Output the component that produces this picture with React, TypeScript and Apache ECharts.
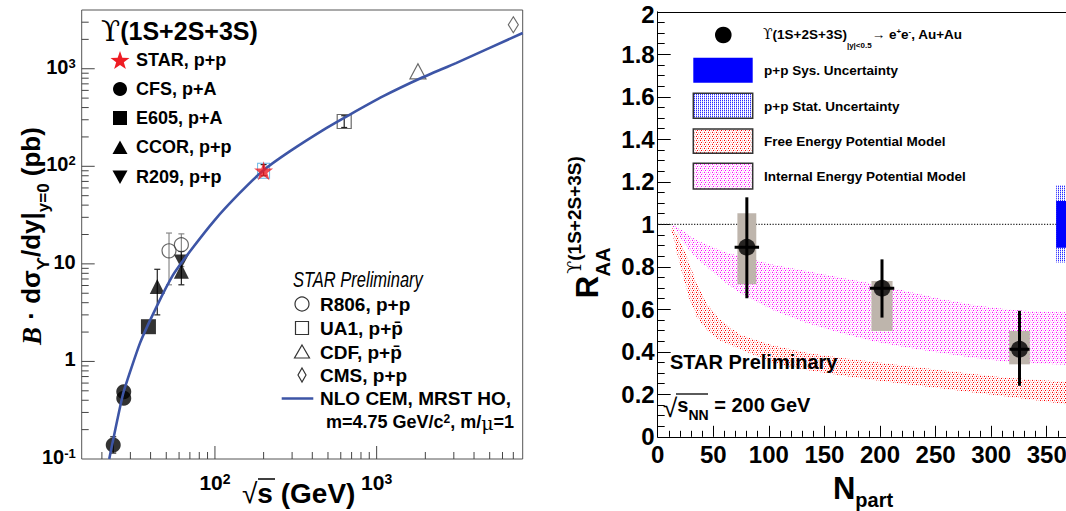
import React, { useEffect, useRef } from 'react';
import * as echarts from 'echarts';

const SANS = '"Liberation Sans", Arial, Helvetica, sans-serif';
const SERIF = '"DejaVu Serif", "Liberation Serif", serif';

// ---------------- Left panel: B dsigma/dy vs sqrt(s) ----------------
const cfsData = [[23.5, 0.139], [27.3, 0.42], [27.3, 0.49]];
const e605Data = [[38.8, 2.27]];
const ccorData = [[44, 5.85], [62, 8.4]];
const r209Data = [[62, 10.6]];
const r806Data = [[52, 13.6], [62, 15.7]];
const starData = [[200, 90]];
const ua1Data = [[630, 288]];
const cdfData = [[1800, 940]];
const cmsData = [[7000, 2825]];
// error bars: [sqrt(s), low, high]
const blackErrors = [[23.5, 0.115, 0.169], [44, 3.0, 8.8], [62, 6.1, 13.4], [200, 80, 104], [630, 250, 330]];
const grayErrors = [[52, 6.1, 20.7], [62, 9.4, 20.3]];
// NLO CEM curve
const nloS = [22.2, 27.1, 34.4, 43.6, 55.1, 70, 100, 142, 198, 290, 488, 679, 1092, 1884, 3096, 8000];
const nloV = [0.1, 0.472, 1.54, 3.65, 7.7, 13.4, 28.3, 53, 90, 142, 246, 337, 520, 803, 1143, 2323];
// tick values of left panel axes
const leftXMin = 15;
const leftXMax = 8000;
const leftYMin = 0.1;
const leftYMax = 4000;
const leftXTicks = [20, 30, 40, 50, 60, 70, 80, 90, 100, 200, 300, 400, 500, 600, 700, 800, 900, 1000, 2000, 3000, 4000, 5000, 6000, 7000];
const leftYTicks = [0.2, 0.3, 0.4, 0.5, 0.6, 0.7, 0.8, 0.9, 1, 2, 3, 4, 5, 6, 7, 8, 9, 10, 20, 30, 40, 50, 60, 70, 80, 90, 100, 200, 300, 400, 500, 600, 700, 800, 900, 1000, 2000, 3000];
const decades = [0.1, 1, 10, 100, 1000];

// ---------------- Right panel: R_AA vs Npart ----------------
const npart = [80.2, 201.8, 325.5];
const raa = [0.892, 0.699, 0.412];
const statLo = [0.652, 0.561, 0.24];
const statHi = [1.127, 0.835, 0.593];
const sysLo = [0.718, 0.498, 0.341];
const sysHi = [1.052, 0.733, 0.498];
const sysHalf = [8.5, 9.5, 9.3];
const npartErr = [11, 11, 9];
// Internal energy potential model band
const intN = [12, 17, 25, 35, 44, 60, 74, 104, 134, 164, 194, 224, 254, 284, 314, 340, 372];
const intHi = [1.0, 0.99, 0.96, 0.925, 0.905, 0.87, 0.85, 0.81, 0.78, 0.75, 0.72, 0.685, 0.65, 0.62, 0.6, 0.59, 0.585];
const intLo = [1.0, 0.965, 0.9, 0.84, 0.8, 0.73, 0.675, 0.595, 0.535, 0.49, 0.45, 0.42, 0.395, 0.372, 0.353, 0.345, 0.338];
// Free energy potential model band
const freeN = [12, 14, 18, 23, 29, 35, 44, 55, 74, 104, 134, 164, 194, 224, 254, 284, 314, 340, 372];
const freeHi = [0.99, 0.975, 0.95, 0.89, 0.81, 0.72, 0.63, 0.555, 0.48, 0.43, 0.395, 0.372, 0.353, 0.333, 0.314, 0.295, 0.278, 0.268, 0.258];
const freeLo = [0.975, 0.94, 0.85, 0.75, 0.64, 0.565, 0.503, 0.455, 0.413, 0.346, 0.314, 0.29, 0.267, 0.247, 0.228, 0.209, 0.19, 0.172, 0.15];
// p+p normalisation uncertainties at R_AA = 1
const ppN = [358.5, 390];
const ppStat = [0.82, 1.185];
const ppSys = [0.89, 1.11];

function makePattern(size: number, dots: Array<[number, number, string]>) {
  const c = document.createElement('canvas');
  c.width = size;
  c.height = size;
  const ctx = c.getContext('2d') as CanvasRenderingContext2D;
  dots.forEach(([x, y, col]) => {
    ctx.fillStyle = col;
    ctx.fillRect(x, y, 1, 1);
  });
  return { image: c.toDataURL(), repeat: 'repeat', imageWidth: size, imageHeight: size };
}

function starPts(cx: number, cy: number, R: number, r: number) {
  const pts: number[][] = [];
  for (let i = 0; i < 10; i++) {
    const a = -Math.PI / 2 + (i * Math.PI) / 5;
    const rad = i % 2 === 0 ? R : r;
    pts.push([cx + rad * Math.cos(a), cy + rad * Math.sin(a)]);
  }
  return pts;
}

const powLabel = (v: number) => {
  const e = Math.round(Math.log10(v));
  if (Math.abs(v / Math.pow(10, e) - 1) > 1e-6) return '';
  if (e === 0) return '{b|1}';
  if (e === 1) return '{b|10}';
  return `{b|10}{s|${e}}`;
};

function buildOption() {
  const magenta = makePattern(4, [
    [0, 0, '#ff00ff'], [2, 0, '#ffb0ff'], [1, 2, '#ff00ff'], [3, 2, '#ffb0ff'],
    [2, 1, '#ffd8ff'], [0, 3, '#ffd8ff'],
  ]);
  const red = makePattern(4, [
    [0, 0, '#ff0000'], [2, 0, '#ffb0b0'], [1, 2, '#ff0000'], [3, 2, '#ffb0b0'],
    [2, 1, '#ffd8d8'], [0, 3, '#ffd8d8'],
  ]);
  const blue = makePattern(2, [[0, 0, '#2a2aff'], [0, 1, '#b8b8ff']]);

  const sansBold = (size: number) => `bold ${size}px ${SANS}`;
  const txt = (x: number, y: number, text: string, font: string, extra: any = {}) => ({
    type: 'text', x, y, z: 100,
    style: { text, font, fill: '#000', verticalAlign: 'middle', ...extra },
  });

  const errBar = (color: string, width: number, cap: number) => (params: any, api: any) => {
    const x = api.value(0);
    const pLo = api.coord([x, api.value(1)]);
    const pHi = api.coord([x, api.value(2)]);
    const style = { stroke: color, lineWidth: width };
    return {
      type: 'group',
      children: [
        { type: 'line', shape: { x1: pLo[0], y1: pLo[1], x2: pHi[0], y2: pHi[1] }, style },
        { type: 'line', shape: { x1: pHi[0] - cap, y1: pHi[1], x2: pHi[0] + cap, y2: pHi[1] }, style },
        { type: 'line', shape: { x1: pLo[0] - cap, y1: pLo[1], x2: pLo[0] + cap, y2: pLo[1] }, style },
      ],
    };
  };

  const band = (N: number[], lo: number[], hi: number[], fill: any) => (params: any, api: any) => {
    if (params.dataIndex !== 0) return null;
    const pts: number[][] = [];
    N.forEach((n, i) => pts.push(api.coord([n, hi[i]])));
    for (let i = N.length - 1; i >= 0; i--) pts.push(api.coord([N[i], lo[i]]));
    return { type: 'polygon', shape: { points: pts }, style: { fill } };
  };

  const ppRect = (fill: any) => (params: any, api: any) => {
    const a = api.coord([api.value(0), api.value(2)]);
    const b = api.coord([api.value(3), api.value(1)]);
    return { type: 'rect', shape: { x: a[0], y: a[1], width: b[0] - a[0], height: b[1] - a[1] }, style: { fill } };
  };

  const L = { xAxisIndex: 0, yAxisIndex: 0 };
  const R = { xAxisIndex: 1, yAxisIndex: 1 };
  const openStyle = { color: 'rgba(0,0,0,0)', borderColor: '#444', borderWidth: 1.2 };

  const series: any[] = [
    // left panel ticks
    {
      type: 'custom', ...L, silent: true, z: 5,
      data: leftXTicks.map((v) => [v, 1, [100, 1000].includes(v) ? 1 : 0]),
      renderItem: (p: any, api: any) => {
        const c = api.coord([api.value(0), leftYMin]);
        const len = api.value(2) ? 13 : 7;
        return { type: 'line', shape: { x1: c[0], y1: c[1], x2: c[0], y2: c[1] - len }, style: { stroke: '#444', lineWidth: 1 } };
      },
    },
    {
      type: 'custom', ...L, silent: true, z: 5,
      data: leftYTicks.map((v) => [leftXMin, v, decades.includes(v) ? 1 : 0]),
      renderItem: (p: any, api: any) => {
        const c = api.coord([leftXMin, api.value(1)]);
        const len = api.value(2) ? 13 : 7;
        return { type: 'line', shape: { x1: c[0], y1: c[1], x2: c[0] + len, y2: c[1] }, style: { stroke: '#444', lineWidth: 1 } };
      },
    },
    { type: 'custom', ...L, z: 2, data: grayErrors, renderItem: errBar('#888', 1.2, 3) },
    { type: 'custom', ...L, z: 2, data: blackErrors, renderItem: errBar('#222', 1.2, 3) },
    { type: 'scatter', ...L, z: 2, data: cfsData, symbol: 'circle', symbolSize: 15, itemStyle: { color: '#000' } },
    { type: 'scatter', ...L, z: 2, data: e605Data, symbol: 'rect', symbolSize: 15, itemStyle: { color: '#000' } },
    { type: 'scatter', ...L, z: 2, data: ccorData, symbol: 'triangle', symbolSize: 15, itemStyle: { color: '#000' } },
    { type: 'scatter', ...L, z: 2, data: r209Data, symbol: 'path://M0,0 L10,0 L5,9 Z', symbolSize: [15, 14], itemStyle: { color: '#000' } },
    { type: 'scatter', ...L, z: 2, data: r806Data, symbol: 'circle', symbolSize: 14, itemStyle: openStyle },
    { type: 'scatter', ...L, z: 2, data: ua1Data, symbol: 'rect', symbolSize: 14, itemStyle: openStyle },
    { type: 'scatter', ...L, z: 2, data: cdfData, symbol: 'triangle', symbolSize: [16, 15], itemStyle: openStyle },
    { type: 'scatter', ...L, z: 2, data: cmsData, symbol: 'diamond', symbolSize: [10, 16], itemStyle: openStyle },
    { type: 'scatter', ...L, z: 2, data: starData, symbol: 'rect', symbolSize: [12, 15], itemStyle: { color: 'rgba(0,0,0,0)', borderColor: '#3aa0e0', borderWidth: 1 } },
    {
      type: 'line', ...L, z: 3, data: nloS.map((s, i) => [s, nloV[i]]), symbol: 'none', smooth: 0.15,
      lineStyle: { color: '#3d55a6', width: 2.6 },
    },
    {
      type: 'scatter', ...L, z: 4, data: starData, symbolSize: 19,
      symbol: 'path://M50,0 L61.8,35.1 L98.1,35.1 L68.8,56.9 L79.4,91.5 L50,70 L20.6,91.5 L31.2,56.9 L1.9,35.1 L38.2,35.1 Z',
      itemStyle: { color: '#ee1c24' },
    },
    // right panel
    { type: 'custom', ...R, z: 1, clip: true, data: intN.map((n, i) => [n, intLo[i], intHi[i]]), renderItem: band(intN, intLo, intHi, magenta) },
    { type: 'custom', ...R, z: 1, clip: true, data: freeN.map((n, i) => [n, freeLo[i], freeHi[i]]), renderItem: band(freeN, freeLo, freeHi, red) },
    {
      type: 'line', ...R, z: 2, data: [[0, 1], [ppN[0], 1]], symbol: 'none',
      lineStyle: { color: '#222', width: 1.2, type: [1.2, 1.6] },
    },
    { type: 'custom', ...R, z: 2, clip: true, data: [[ppN[0], ppStat[0], ppStat[1], ppN[1]]], renderItem: ppRect(blue) },
    { type: 'custom', ...R, z: 2, clip: true, data: [[ppN[0], ppSys[0], ppSys[1], ppN[1]]], renderItem: ppRect('#0000ff') },
    {
      type: 'custom', ...R, z: 3, data: npart.map((n, i) => [n, sysLo[i], sysHi[i], sysHalf[i]]),
      renderItem: (p: any, api: any) => {
        const n = api.value(0);
        const hw = api.value(3);
        const a = api.coord([n - hw, api.value(2)]);
        const b = api.coord([n + hw, api.value(1)]);
        return { type: 'rect', shape: { x: a[0], y: a[1], width: b[0] - a[0], height: b[1] - a[1] }, style: { fill: '#beb5ac' } };
      },
    },
    {
      type: 'custom', ...R, z: 4, data: npart.map((n, i) => [n, raa[i], statLo[i], statHi[i], npartErr[i]]),
      renderItem: (p: any, api: any) => {
        const n = api.value(0);
        const y = api.value(1);
        const lo = api.coord([n, api.value(2)]);
        const hi = api.coord([n, api.value(3)]);
        const l = api.coord([n - api.value(4), y]);
        const r = api.coord([n + api.value(4), y]);
        const style = { stroke: '#000', lineWidth: 3 };
        return {
          type: 'group',
          children: [
            { type: 'line', shape: { x1: lo[0], y1: lo[1], x2: hi[0], y2: hi[1] }, style },
            { type: 'line', shape: { x1: l[0], y1: l[1], x2: r[0], y2: r[1] }, style },
          ],
        };
      },
    },
    { type: 'scatter', ...R, z: 5, data: npart.map((n, i) => [n, raa[i]]), symbol: 'circle', symbolSize: 17, itemStyle: { color: '#000' } },
  ];

  const graphic: any[] = [
    // ---- left panel texts ----
    {
      type: 'text', x: 101, y: 31, z: 100,
      style: {
        text: '{u|ϒ}{t|(1S+2S+3S)}', verticalAlign: 'middle',
        rich: { u: { fontSize: 28, fontFamily: SERIF, fill: '#000' }, t: { fontSize: 25, fontWeight: 'bold', fontFamily: SANS, fill: '#000' } },
      },
    },
    { type: 'polygon', z: 100, shape: { points: starPts(120, 61, 10, 4) }, style: { fill: '#ee1c24' } },
    { type: 'circle', z: 100, shape: { cx: 120, cy: 89, r: 7 }, style: { fill: '#000' } },
    { type: 'rect', z: 100, shape: { x: 113, y: 111, width: 14, height: 14 }, style: { fill: '#000' } },
    { type: 'polygon', z: 100, shape: { points: [[120, 140.5], [127.5, 154], [112.5, 154]] }, style: { fill: '#000' } },
    { type: 'polygon', z: 100, shape: { points: [[112.5, 170.5], [127.5, 170.5], [120, 184]] }, style: { fill: '#000' } },
    txt(136, 60, 'STAR, p+p', sansBold(18)),
    txt(136, 89, 'CFS, p+A', sansBold(18)),
    txt(136, 118, 'E605, p+A', sansBold(18)),
    txt(136, 147, 'CCOR, p+p', sansBold(18)),
    txt(136, 177, 'R209, p+p', sansBold(18)),
    { type: 'text', x: 293, y: 279, z: 100, scaleX: 0.75, style: { text: 'STAR Preliminary', font: `italic 22px ${SANS}`, fill: '#000', verticalAlign: 'middle' } },
    { type: 'circle', z: 100, shape: { cx: 302, cy: 304, r: 7 }, style: { fill: 'none', stroke: '#333', lineWidth: 1.2 } },
    { type: 'rect', z: 100, shape: { x: 295.5, y: 321.5, width: 13, height: 13 }, style: { fill: 'none', stroke: '#333', lineWidth: 1.2 } },
    { type: 'polygon', z: 100, shape: { points: [[302, 345], [309.5, 358], [294.5, 358]] }, style: { fill: 'none', stroke: '#333', lineWidth: 1.2 } },
    { type: 'polygon', z: 100, shape: { points: [[302, 368], [306, 375], [302, 382], [298, 375]] }, style: { fill: 'none', stroke: '#333', lineWidth: 1.2 } },
    { type: 'line', z: 100, shape: { x1: 281.7, y1: 398.5, x2: 313.3, y2: 398.5 }, style: { stroke: '#3d55a6', lineWidth: 2.6 } },
    txt(320, 304, 'R806, p+p', sansBold(19)),
    txt(320, 328, 'UA1, p+p\u0304', sansBold(19)),
    txt(320, 352, 'CDF, p+p\u0304', sansBold(19)),
    txt(320, 375, 'CMS, p+p', sansBold(19)),
    txt(320, 398, 'NLO CEM, MRST HO,', sansBold(19)),
    {
      type: 'text', x: 326, y: 424, z: 100,
      style: {
        text: '{t|m=4.75 GeV/c}{s|2}{t|, m/}{m|μ}{t|=1}', verticalAlign: 'middle',
        rich: {
          t: { fontSize: 18, fontWeight: 'bold', fontFamily: SANS, fill: '#000', lineHeight: 22, verticalAlign: 'top' },
          s: { fontSize: 12, fontWeight: 'bold', fontFamily: SANS, fill: '#000', lineHeight: 12, verticalAlign: 'top' },
          m: { fontSize: 19, fontFamily: SERIF, fill: '#000', lineHeight: 22, verticalAlign: 'top' },
        },
      },
    },
    // left y title (rotated)
    {
      type: 'text', x: 31, y: 236, z: 100, rotation: Math.PI / 2,
      style: {
        text: '{bi|B}{m| · dσ}{sub|ϒ}{m|/dy|}{sub|y=0}{m| (pb)}', align: 'center', verticalAlign: 'middle',
        rich: {
          bi: { fontSize: 27, fontStyle: 'italic', fontWeight: 'bold', fontFamily: '"Liberation Serif", serif', fill: '#000', lineHeight: 26, verticalAlign: 'top' },
          m: { fontSize: 26, fontWeight: 'bold', fontFamily: SANS, fill: '#000', lineHeight: 26, verticalAlign: 'top' },
          sub: { fontSize: 17, fontWeight: 'bold', fontFamily: SANS, fill: '#000', lineHeight: 17, padding: [17, 0, 0, 0], verticalAlign: 'top' },
        },
      },
    },
    // left x title
    {
      type: 'text', x: 242, y: 493, z: 100,
      style: {
        text: '{r|√}{t|s (GeV)}', verticalAlign: 'middle',
        rich: {
          r: { fontSize: 28, fontFamily: SANS, fill: '#000' },
          t: { fontSize: 28, fontWeight: 'bold', fontFamily: SANS, fill: '#000' },
        },
      },
    },
    { type: 'line', z: 100, shape: { x1: 258, y1: 479, x2: 275, y2: 479 }, style: { stroke: '#000', lineWidth: 1.5 } },

    // ---- right panel legend ----
    { type: 'circle', z: 100, shape: { cx: 723.3, cy: 35, r: 8.3 }, style: { fill: '#000' } },
    {
      type: 'text', x: 763, y: 35, z: 100,
      style: {
        text: '{u|ϒ}{t|(1S+2S+3S)}{sub||y|<0.5}{t|→ e}{sup|+}{t|e}{sup|-}{t|, Au+Au}', verticalAlign: 'middle',
        rich: {
          u: { fontSize: 14, fontFamily: SERIF, fill: '#000', lineHeight: 16, verticalAlign: 'top' },
          t: { fontSize: 13.5, fontWeight: 'bold', fontFamily: SANS, fill: '#000', lineHeight: 16, verticalAlign: 'top' },
          sub: { fontSize: 8, fontWeight: 'bold', fontFamily: SANS, fill: '#000', lineHeight: 8, padding: [14, 0, 0, 0], verticalAlign: 'top' },
          sup: { fontSize: 8, fontWeight: 'bold', fontFamily: SANS, fill: '#000', lineHeight: 8, verticalAlign: 'top' },
        },
      },
    },
    { type: 'rect', z: 100, shape: { x: 693.3, y: 57.7, width: 59.4, height: 25 }, style: { fill: '#0000ff' } },
    txt(764, 70, 'p+p Sys. Uncertainty', sansBold(13.5)),
    { type: 'rect', z: 100, shape: { x: 693.3, y: 93.3, width: 59.4, height: 25 }, style: { fill: blue, stroke: '#333', lineWidth: 1.5 } },
    txt(764, 106, 'p+p Stat. Uncertainty', sansBold(13.5)),
    { type: 'rect', z: 100, shape: { x: 693.3, y: 129, width: 59.4, height: 24.3 }, style: { fill: red, stroke: '#333', lineWidth: 1.5 } },
    txt(764, 141.7, 'Free Energy Potential Model', sansBold(13.5)),
    { type: 'rect', z: 100, shape: { x: 693.3, y: 163.3, width: 59.4, height: 25.7 }, style: { fill: magenta, stroke: '#333', lineWidth: 1.5 } },
    txt(764, 176, 'Internal Energy Potential Model', sansBold(13.5)),
    txt(670, 362, 'STAR Preliminary', sansBold(20)),
    {
      type: 'text', x: 663, y: 408, z: 100,
      style: {
        text: '{r|√}{s|s}{sub|NN}{t| = 200 GeV}', verticalAlign: 'middle',
        rich: {
          r: { fontSize: 26, fontFamily: SANS, fill: '#000', lineHeight: 26, verticalAlign: 'top' },
          s: { fontSize: 20, fontWeight: 'bold', fontFamily: SANS, fill: '#000', lineHeight: 24, verticalAlign: 'top' },
          t: { fontSize: 20, fontWeight: 'bold', fontFamily: SANS, fill: '#000', lineHeight: 24, verticalAlign: 'top' },
          sub: { fontSize: 14, fontWeight: 'bold', fontFamily: SANS, fill: '#000', lineHeight: 14, padding: [13, 0, 0, 0], verticalAlign: 'top' },
        },
      },
    },
    { type: 'line', z: 100, shape: { x1: 676, y1: 394, x2: 708, y2: 394 }, style: { stroke: '#000', lineWidth: 1.3 } },
    // right x title
    {
      type: 'text', x: 863, y: 488, z: 100,
      style: {
        text: '{n|N}{sub|part}', align: 'center', verticalAlign: 'middle',
        rich: {
          n: { fontSize: 31, fontWeight: 'bold', fontFamily: SANS, fill: '#000', lineHeight: 30, verticalAlign: 'top' },
          sub: { fontSize: 20, fontWeight: 'bold', fontFamily: SANS, fill: '#000', lineHeight: 20, padding: [17, 0, 0, 0], verticalAlign: 'top' },
        },
      },
    },
    // right y title (rotated pieces)
    { type: 'text', x: 587, y: 287, z: 100, rotation: Math.PI / 2, style: { text: 'R', font: sansBold(31), fill: '#000', align: 'center', verticalAlign: 'middle' } },
    { type: 'text', x: 602.5, y: 262, z: 100, rotation: Math.PI / 2, style: { text: 'AA', font: sansBold(20), fill: '#000', align: 'center', verticalAlign: 'middle' } },
    {
      type: 'text', x: 574, y: 215, z: 100, rotation: Math.PI / 2,
      style: {
        text: '{u|ϒ}{t|(1S+2S+3S)}', align: 'center', verticalAlign: 'middle',
        rich: { u: { fontSize: 19, fontFamily: SERIF, fill: '#000' }, t: { fontSize: 19, fontWeight: 'bold', fontFamily: SANS, fill: '#000' } },
      },
    },
  ];

  return {
    animation: false,
    backgroundColor: '#ffffff',
    grid: [
      { left: 81.7, top: 10, width: 441, height: 449, show: true, borderColor: '#555', borderWidth: 1, backgroundColor: 'rgba(0,0,0,0)', outerBoundsMode: 'none' },
      { left: 657.7, top: 11.8, width: 444.6, height: 425, outerBoundsMode: 'none' },
    ],
    xAxis: [
      {
        type: 'log', logBase: 10, gridIndex: 0, min: leftXMin, max: leftXMax,
        axisLine: { show: false }, axisTick: { show: false }, splitLine: { show: false },
        axisLabel: {
          margin: 13, formatter: powLabel,
          rich: {
            b: { fontSize: 21, fontWeight: 'bold', fontFamily: SANS, color: '#000', lineHeight: 24, verticalAlign: 'top' },
            s: { fontSize: 14, fontWeight: 'bold', fontFamily: SANS, color: '#000', lineHeight: 14, verticalAlign: 'top' },
          },
        },
      },
      {
        type: 'value', gridIndex: 1, min: 0, max: 400, interval: 50,
        axisLine: { onZero: false, lineStyle: { color: '#000', width: 1 } },
        axisTick: { inside: true, length: 11, lineStyle: { color: '#000' } },
        minorTick: { show: true, splitNumber: 5, length: 6, lineStyle: { color: '#000' } },
        splitLine: { show: false },
        axisLabel: {
          color: '#000', fontSize: 24, fontWeight: 'bold', fontFamily: SANS, margin: 6,
          formatter: (v: number) => (v < 400 ? String(v) : ''),
        },
      },
      {
        type: 'value', gridIndex: 1, position: 'top', min: 0, max: 400,
        axisLine: { show: true, onZero: false, lineStyle: { color: '#000', width: 1 } },
        axisTick: { show: false }, axisLabel: { show: false }, splitLine: { show: false },
      },
    ],
    yAxis: [
      {
        type: 'log', logBase: 10, gridIndex: 0, min: leftYMin, max: leftYMax,
        axisLine: { show: false }, axisTick: { show: false }, splitLine: { show: false },
        axisLabel: {
          margin: 6, formatter: powLabel,
          rich: {
            b: { fontSize: 20, fontWeight: 'bold', fontFamily: SANS, color: '#000', lineHeight: 24, verticalAlign: 'top' },
            s: { fontSize: 13, fontWeight: 'bold', fontFamily: SANS, color: '#000', lineHeight: 13, verticalAlign: 'top' },
          },
        },
      },
      {
        type: 'value', gridIndex: 1, min: 0, max: 2, interval: 0.2,
        axisLine: { show: true, onZero: false, lineStyle: { color: '#000', width: 1 } },
        axisTick: { inside: true, length: 13, lineStyle: { color: '#000' } },
        minorTick: { show: true, splitNumber: 4, length: 7, lineStyle: { color: '#000' } },
        splitLine: { show: false },
        axisLabel: {
          color: '#000', fontSize: 24, fontWeight: 'bold', fontFamily: SANS, margin: 3, lineHeight: 20,
          formatter: (v: number) => (v >= 2 ? '{top|2}' : String(v)),
          rich: { top: { fontSize: 24, fontWeight: 'bold', fontFamily: SANS, color: '#000', lineHeight: 18, padding: [5, 0, 0, 0] } },
        },
      },
    ],
    series,
    graphic,
  };
}

export default function App() {
  const ref = useRef<HTMLDivElement>(null);
  useEffect(() => {
    if (!ref.current) return;
    const chart = echarts.init(ref.current, null, { renderer: 'svg' });
    chart.setOption(buildOption() as any);
    return () => chart.dispose();
  }, []);
  return <div ref={ref} style={{ position: 'absolute', left: 0, top: 0, width: 1066, height: 511 }} />;
}
